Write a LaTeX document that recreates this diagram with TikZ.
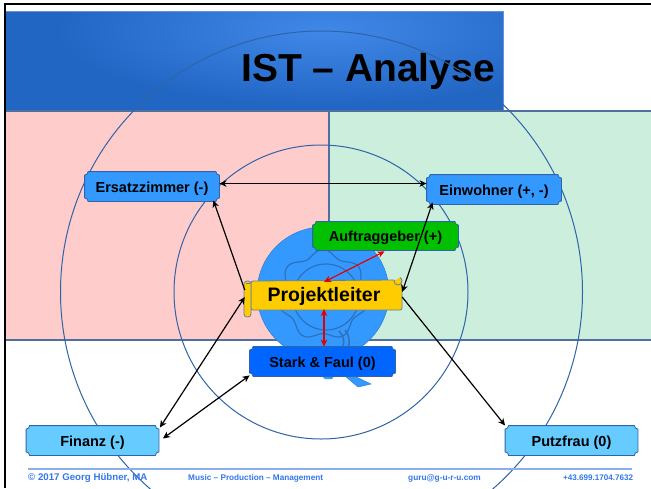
\documentclass[tikz,border=0pt]{standalone}
\usepackage{fontspec}
\setmainfont{Liberation Sans}
\usetikzlibrary{arrows.meta,calc}
\makeatletter
\pgfdeclareshape{plaque}{
  \inheritsavedanchors[from=rectangle]
  \inheritanchorborder[from=rectangle]
  \inheritanchor[from=rectangle]{center}
  \inheritanchor[from=rectangle]{north}
  \inheritanchor[from=rectangle]{south}
  \inheritanchor[from=rectangle]{east}
  \inheritanchor[from=rectangle]{west}
  \inheritanchor[from=rectangle]{north east}
  \inheritanchor[from=rectangle]{north west}
  \inheritanchor[from=rectangle]{south east}
  \inheritanchor[from=rectangle]{south west}
  \backgroundpath{
    \southwest \edef\plxa{\the\pgf@x}\edef\plya{\the\pgf@y}
    \northeast \edef\plxb{\the\pgf@x}\edef\plyb{\the\pgf@y}
    \def\plr{3.5pt}
    \pgfpathmoveto{\pgfpoint{\plxa+\plr}{\plya}}
    \pgfpathlineto{\pgfpoint{\plxb-\plr}{\plya}}
    \pgfpatharc{180}{90}{\plr}
    \pgfpathlineto{\pgfpoint{\plxb}{\plyb-\plr}}
    \pgfpatharc{270}{180}{\plr}
    \pgfpathlineto{\pgfpoint{\plxa+\plr}{\plyb}}
    \pgfpatharc{0}{-90}{\plr}
    \pgfpathlineto{\pgfpoint{\plxa}{\plya+\plr}}
    \pgfpatharc{90}{0}{\plr}
    \pgfpathclose
  }
}
\makeatother
\definecolor{hdark}{HTML}{2266C4}
\definecolor{hlight}{HTML}{4088E8}
\definecolor{ringc}{HTML}{2F64A8}
\definecolor{rule}{HTML}{4F6F9F}
\definecolor{pinkc}{HTML}{FFCCCC}
\definecolor{greenc}{HTML}{CCEEDD}
\definecolor{discc}{HTML}{3399FF}
\definecolor{sealc}{HTML}{3070B8}
\definecolor{gold}{HTML}{FFCC00}
\definecolor{goldl}{HTML}{5B7FA8}
\definecolor{footc}{HTML}{3377EE}
\definecolor{footl}{HTML}{88AEF0}
\definecolor{extc}{HTML}{66CCFF}
\tikzset{
  box/.style={shape=plaque,draw=#1,line width=0.8pt,inner sep=0pt,text height=14pt,text depth=3pt,font=\bfseries\fontsize{14.5}{16}\selectfont,text=black},
  person/.style={box=ringc,fill=discc,minimum width=134pt,minimum height=29pt},
  outerp/.style={box=ringc,fill=extc,minimum width=132pt,minimum height=29pt},
  conn/.style={line width=1.2pt,black,arrows={Stealth[length=7pt,width=6.5pt,inset=2pt]-Stealth[length=7pt,width=6.5pt,inset=2pt]}},
  connone/.style={line width=1.2pt,black,-{Stealth[length=7pt,width=6.5pt,inset=2pt]}},
  redconn/.style={line width=1.2pt,red!90!black,arrows={Stealth[length=7pt,width=6.5pt,inset=2pt]-Stealth[length=7pt,width=6.5pt,inset=2pt]}},
  ring/.style={draw=ringc,line width=1pt},
  foot/.style={anchor=base west,inner sep=0pt,text=footc,font=\bfseries\fontsize{#1}{10}\selectfont},
  foot/.default=8
}
\begin{document}
\begin{tikzpicture}[x=1pt,y=-1pt]
\useasboundingbox (0,0) rectangle (651,488);
\fill[white] (0,0) rectangle (651,488);
% header
\begin{scope}
  \clip (6,11) rectangle (503,110);
  \fill[hdark] (6,11) rectangle (503,110);
  \shade[inner color=hlight,outer color=hdark] (325,30) ellipse [x radius=270,y radius=75];
\end{scope}
\draw[draw=hdark!70!white,line width=0.8pt] (6,11) -- (503,11) -- (503,110);
% panels
\fill[pinkc] (6,111) rectangle (329,340);
\fill[greenc] (329,111) rectangle (651,340);
\draw[rule,line width=2pt] (6,111) -- (651,111);
\draw[rule,line width=2pt] (6,340) -- (651,340);
\draw[rule,line width=2pt] (329,111) -- (329,340);
% frame
\draw[black,line width=1.8pt] (651,4) -- (5,4) -- (5,488);
% title
\node[anchor=base west,inner sep=0pt,font=\bfseries\fontsize{39}{44}\selectfont] (title) at (241,81) {IST – Analyse};
% rings
\draw[ring] (321.5,292) circle [radius=261];
\draw[ring] (321,292) circle [radius=147];
% disc and seal
\fill[discc,draw=sealc!70!discc,line width=0.5pt] (323,293) circle [radius=66];
\fill[discc,draw=sealc!60!discc,line width=0.5pt] (350,374) -- (371,384) -- (358,387) -- (345,376) -- cycle;
\fill[discc] (322,376) -- (334,376) -- (332,379) -- (325,379) -- cycle;
\draw[sealc,line width=1.2pt,smooth,samples=120,domain=0:360] plot ({323+(42+3.5*sin(7*\x))*cos(\x)},{295+(42+3.5*sin(7*\x))*sin(\x)});
\draw[sealc,line width=1.2pt] (326,297) circle [radius=33];
\draw[sealc,line width=1.5pt] (339,331) .. controls (344,336) and (345,342) .. (342,349);
\draw[sealc,line width=1.5pt] (345,330) .. controls (350,336) and (350,342) .. (348,349);
% scroll
\draw[goldl,fill=gold,line width=0.8pt,rounded corners=2pt] (251,281) -- (395,280) -- (402,284) -- (402,310) -- (251,310) -- cycle;
\draw[goldl,fill=gold,line width=0.8pt] (394,281) arc [start angle=180,end angle=-60,radius=4];
\draw[goldl,fill=gold,line width=0.8pt,rounded corners=3pt] (244,281) rectangle (251,317);
\draw[goldl,line width=0.6pt] (246,283) -- (250,283);
% nodes
\node[person] (ers) at (152,186.5) {Ersatzzimmer (-)};
\node[person] (ein) at (494,189.5) {Einwohner (+, -)};
\node[box=ringc,fill={rgb,255:red,0;green,192;blue,0},minimum width=145pt,minimum height=28pt] (auf) at (385.5,236) {Auftraggeber (+)};
\node[inner sep=0pt,minimum width=156pt,minimum height=30pt,font=\bfseries\fontsize{19.5}{22}\selectfont] (pl) at (324,296) {Projektleiter};
\node[box=ringc,fill={rgb,255:red,0;green,102;blue,255},minimum width=145pt,minimum height=29pt] (stark) at (322.5,361.5) {Stark \& Faul (0)};
\node[outerp] (fin) at (92.5,440.5) {Finanz (-)};
\node[outerp] (put) at (571.5,440.5) {Putzfrau (0)};
% connectors
\draw[conn] ([yshift=3pt]ers.east) -- ([yshift=3pt]ein.west |- ers.east);
\draw[connone] ([shift={(-1,-6)}]pl.west) -- ([shift={(-6,-1)}]ers.south east);
\draw[conn] ([shift={(6,-2)}]ein.south west) -- ([shift={(0,-4)}]pl.east);
\draw[connone] ([yshift=-1pt]pl.east) -- ([shift={(0,-15)}]put.west);
\draw[conn] ([shift={(-1,1)}]pl.west) -- ([shift={(1,-13)}]fin.east);
\draw[conn] ([shift={(4,-2)}]fin.east) -- ([shift={(0,-1)}]stark.south west);
\draw[redconn] ([shift={(0,-14)}]pl.center) -- ([shift={(-1,1)}]auf.south);
\draw[redconn] ([shift={(0,13)}]pl.center) -- ([shift={(0,0)}]pl.center |- stark.north);
% footer
\draw[footl,line width=1.5pt] (28,469) -- (632,469);
\node[foot=9.7] (f1) at (28,480) {© 2017 Georg Hübner, MA};
\node[foot=8.2] (f2) at (188,480) {Music – Production – Management};
\node[foot=8.3] (f3) at (408,480) {guru@g-u-r-u.com};
\node[foot=8.1] (f4) at (563,480) {+43.699.1704.7632};
\end{tikzpicture}
\end{document}
